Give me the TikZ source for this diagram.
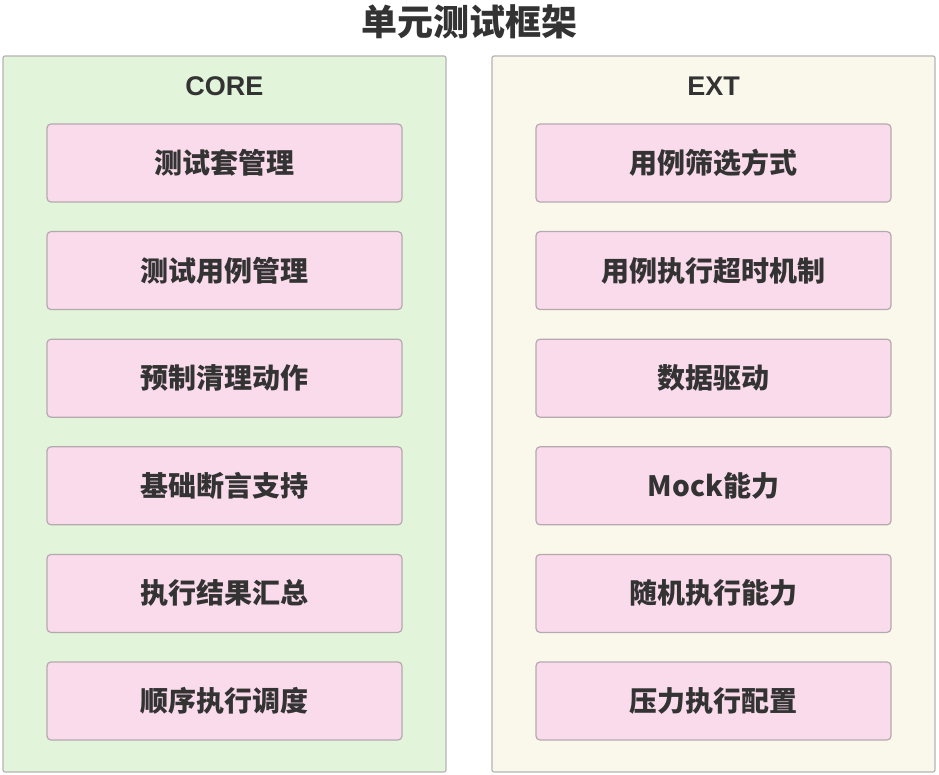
\documentclass[tikz,border=0pt]{standalone}
\usepackage{fontspec}
\setmainfont{Liberation Sans}
\newfontfamily\cjk{Noto Sans CJK SC}
\usetikzlibrary{calc}

\definecolor{coregreen}{HTML}{E2F4D9}
\definecolor{extyellow}{HTML}{FAF8EA}
\definecolor{itempink}{HTML}{FADBEB}
\definecolor{panelline}{HTML}{B4B4B4}
\definecolor{itemline}{HTML}{B5A9B0}
\definecolor{textgray}{HTML}{333333}

\tikzset{
  panel/.style={draw=panelline, line width=1.2pt, rounded corners=2pt, minimum width=443pt, minimum height=716pt, inner sep=0pt},
  panellabel/.style={font=\bfseries\fontsize{27}{30}\selectfont, text=textgray},
  item/.style={draw=itemline, line width=1.2pt, fill=itempink, rounded corners=4pt, minimum width=355pt, minimum height=78pt, inner sep=0pt, font=\cjk\bfseries\fontsize{28}{30}\selectfont, text=textgray}
}

\begin{document}
\begin{tikzpicture}[x=1pt, y=1pt]

\useasboundingbox (0, 0) rectangle (939, -775);

\node[font=\cjk\bfseries\fontsize{36}{40}\selectfont, text=textgray] (title) at (469.5, -22) {单元测试框架};

\node[panel, fill=coregreen] (core) at (224.5, -414) {};
\node[panel, fill=extyellow] (ext) at (713.5, -414) {};

\node[panellabel] (corelabel) at (224.5, -86) {CORE};
\node[panellabel] (extlabel) at (713.5, -86) {EXT};

\node[item] (c1) at (224.5, -163) {测试套管理};
\node[item] (c2) at (224.5, -270.6) {测试用例管理};
\node[item] (c3) at (224.5, -378.2) {预制清理动作};
\node[item] (c4) at (224.5, -485.8) {基础断言支持};
\node[item] (c5) at (224.5, -593.4) {执行结果汇总};
\node[item] (c6) at (224.5, -701) {顺序执行调度};

\node[item] (e1) at (713.5, -163) {用例筛选方式};
\node[item] (e2) at (713.5, -270.6) {用例执行超时机制};
\node[item] (e3) at (713.5, -378.2) {数据驱动};
\node[item] (e4) at (713.5, -485.8) {Mock能力};
\node[item] (e5) at (713.5, -593.4) {随机执行能力};
\node[item] (e6) at (713.5, -701) {压力执行配置};

\end{tikzpicture}
\end{document}
